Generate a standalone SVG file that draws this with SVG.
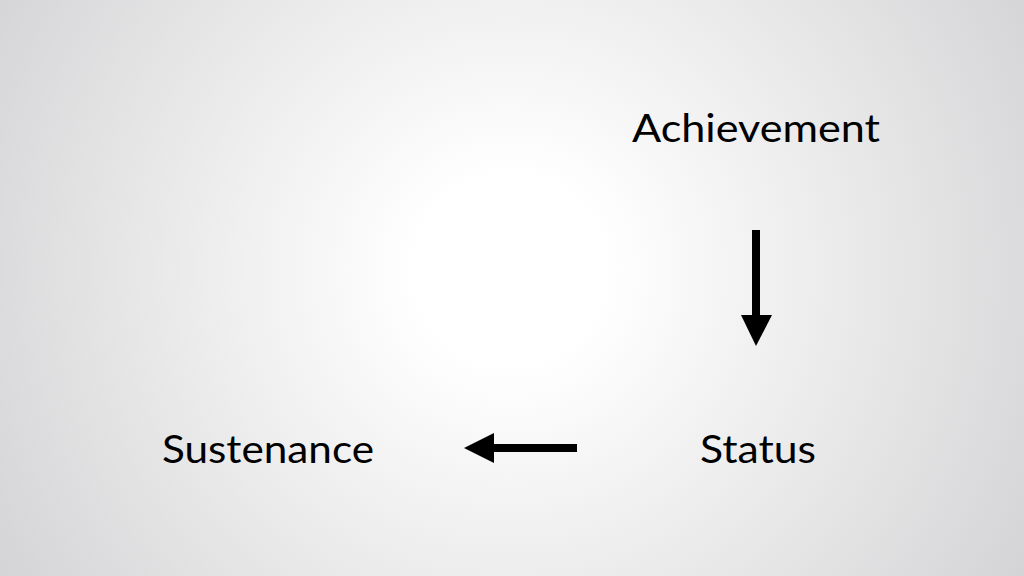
<svg xmlns="http://www.w3.org/2000/svg" width="1024" height="576" viewBox="0 0 1024 576">
<defs>
<radialGradient id="bg" cx="510" cy="270" r="620" gradientUnits="userSpaceOnUse">
<stop offset="0" stop-color="#ffffff"/>
<stop offset="0.15" stop-color="#ffffff"/>
<stop offset="1" stop-color="#d2d2d4"/>
</radialGradient>
<style>
.label{font-family:Lato,"Noto Sans","Liberation Sans",sans-serif;font-size:39px;fill:#000;}
</style>
</defs>
<rect x="0" y="0" width="1024" height="576" fill="url(#bg)"/>
<g id="achievement"><text class="label" x="632" y="142" textLength="248" lengthAdjust="spacingAndGlyphs">Achievement</text></g>
<g id="status"><text class="label" x="700" y="463" textLength="116" lengthAdjust="spacingAndGlyphs">Status</text></g>
<g id="sustenance"><text class="label" x="162" y="463" textLength="212" lengthAdjust="spacingAndGlyphs">Sustenance</text></g>
<g id="connectors" fill="#000">
<rect x="752" y="230" width="8" height="86"/>
<polygon points="741,315 772,315 756,346"/>
<rect x="493" y="444" width="84" height="8"/>
<polygon points="494,433 494,463 464,448"/>
</g>
</svg>
